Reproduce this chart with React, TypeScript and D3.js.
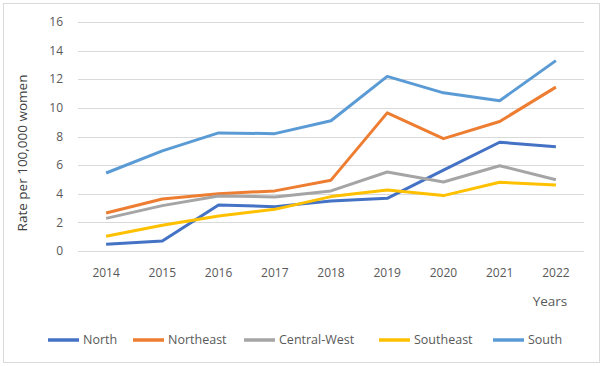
import { scaleBand, scaleLinear, line } from "d3";

const years = ["2014", "2015", "2016", "2017", "2018", "2019", "2020", "2021", "2022"];
const north = [0.47, 0.7, 3.21, 3.1, 3.5, 3.68, 5.65, 7.6, 7.28];
const northeast = [2.65, 3.63, 4.0, 4.2, 4.95, 9.65, 7.85, 9.05, 11.45];
const centralWest = [2.28, 3.17, 3.85, 3.78, 4.2, 5.52, 4.82, 5.96, 4.98];
const southeast = [1.03, 1.8, 2.45, 2.91, 3.8, 4.26, 3.87, 4.8, 4.61];
const south = [5.45, 7.0, 8.25, 8.2, 9.1, 12.2, 11.05, 10.5, 13.3];
const yTicks = [0, 2, 4, 6, 8, 10, 12, 14, 16];

const series = [
    { name: "North", values: north, color: "#4472C4" },
    { name: "Northeast", values: northeast, color: "#ED7D31" },
    { name: "Central-West", values: centralWest, color: "#A5A5A5" },
    { name: "Southeast", values: southeast, color: "#FFC000" },
    { name: "South", values: south, color: "#5B9BD5" },
];

const W = 603;
const H = 366;
const plot = { left: 78, right: 584, top: 22, bottom: 251 };
const font = "'Open Sans', 'Liberation Sans', sans-serif";

export default function App() {
    const x = scaleBand().domain(years).range([plot.left, plot.right]);
    const y = scaleLinear().domain([0, 16]).range([plot.bottom, plot.top]);
    const cx = (yr: string) => (x(yr) ?? 0) + x.bandwidth() / 2;

    const path = line<number>()
        .x((_, i) => cx(years[i]))
        .y((d) => y(d));

    // legend: x where each entry's line swatch starts
    const legendX = [48, 133, 244, 379, 493];

    return (
        <svg
            width={W}
            height={H}
            style={{ position: "absolute", left: 0, top: 0, fontFamily: font }}
        >
            <rect x={0} y={0} width={W} height={H} fill="#fff" />
            <rect
                x={3.5}
                y={3.5}
                width={W - 7}
                height={H - 7}
                fill="none"
                stroke="#d9d9d9"
            />

            {/* gridlines */}
            {yTicks.map((t) => (
                <line
                    key={t}
                    x1={plot.left}
                    x2={plot.right}
                    y1={Math.round(y(t)) + 0.5}
                    y2={Math.round(y(t)) + 0.5}
                    stroke="#d9d9d9"
                />
            ))}

            {/* y tick labels */}
            {yTicks.map((t) => (
                <text
                    key={t}
                    x={63}
                    y={y(t)}
                    dy="0.35em"
                    textAnchor="end"
                    fontSize={12}
                    fill="#595959"
                >
                    {t}
                </text>
            ))}

            {/* y axis title */}
            <text
                transform={`translate(22,153) rotate(-90)`}
                textAnchor="middle"
                dy="0.35em"
                fontSize={13.5}
                fill="#404040"
            >
                Rate per 100,000 women
            </text>

            {/* x tick labels */}
            {years.map((yr) => (
                <text
                    key={yr}
                    x={cx(yr)}
                    y={273}
                    dy="0.35em"
                    textAnchor="middle"
                    fontSize={12}
                    fill="#595959"
                >
                    {yr}
                </text>
            ))}

            <text
                x={550}
                y={301}
                dy="0.35em"
                textAnchor="middle"
                fontSize={13.5}
                fill="#595959"
            >
                Years
            </text>

            {/* lines */}
            {series.map((s) => (
                <path
                    key={s.name}
                    d={path(s.values) ?? ""}
                    fill="none"
                    stroke={s.color}
                    strokeWidth={3}
                    strokeLinejoin="round"
                />
            ))}

            {/* legend */}
            {series.map((s, i) => (
                <g key={s.name} transform={`translate(${legendX[i]},340)`}>
                    <line x1={0} x2={31} stroke={s.color} strokeWidth={3.5} />
                    <text x={35} dy="0.35em" fontSize={12.5} fill="#595959">
                        {s.name}
                    </text>
                </g>
            ))}
        </svg>
    );
}
